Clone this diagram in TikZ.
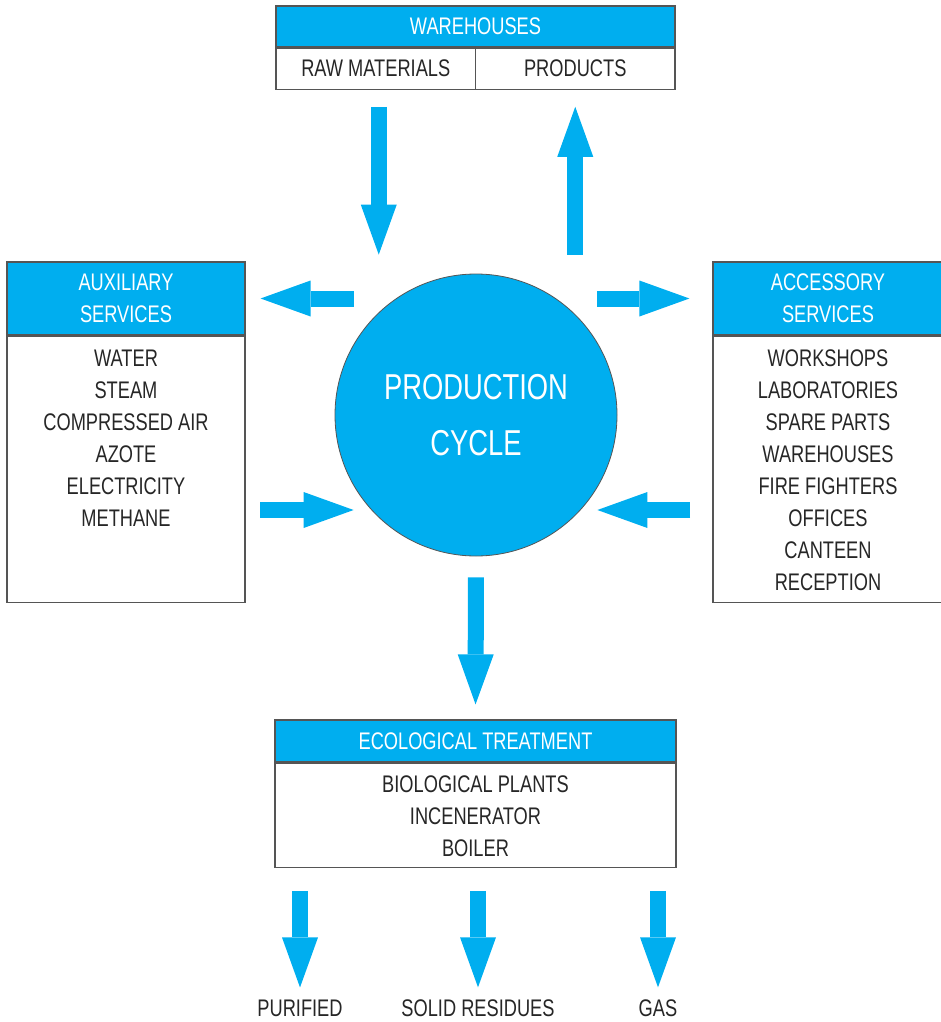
\documentclass[tikz,border=0pt]{standalone}
\usepackage{fontspec}
\setmainfont{Liberation Sans}[FakeStretch=0.76]
\usetikzlibrary{arrows.meta,positioning}
\definecolor{procblue}{HTML}{00AEEF}
\definecolor{boxgray}{HTML}{555555}
\definecolor{inkgray}{HTML}{262626}

\begin{document}
\begin{tikzpicture}[x=1pt, y=-1pt, align=center, inner sep=0pt,
    font=\fontsize{24}{32}\selectfont, text=inkgray,
    head/.style={rectangle, draw=boxgray, line width=1.2pt, fill=procblue, text=white},
    cell/.style={rectangle, draw=boxgray, line width=1.2pt},
    flow/.style={draw=procblue, line width=16pt, -{Triangle[width=36pt, length=50pt, line width=0pt]}}]
    \useasboundingbox (0,0) rectangle (941,1022);

    % warehouses
    \node[head, minimum width=399pt, minimum height=41pt] at (475.5,26.5) (whhead) {WAREHOUSES};
    \node[cell, minimum width=199.5pt, minimum height=41pt, anchor=north west] at (whhead.south west) (raw) {RAW MATERIALS};
    \node[cell, minimum width=199.5pt, minimum height=41pt, anchor=north east] at (whhead.south east) (prod) {PRODUCTS};

    % auxiliary services
    \node[head, minimum width=238pt, minimum height=73pt] at (126,298.5) (auxhead) {AUXILIARY\\SERVICES};
    \node[cell, minimum width=238pt, minimum height=266pt, anchor=north] at (auxhead.south) (auxbox) {};
    \node at (126,438) (auxlist) {WATER\\STEAM\\COMPRESSED AIR\\AZOTE\\ELECTRICITY\\METHANE};

    % accessory services
    \node[head, minimum width=230pt, minimum height=73pt] at (828,298.5) (acchead) {ACCESSORY\\SERVICES};
    \node[cell, minimum width=230pt, minimum height=266pt, anchor=north] at (acchead.south) (accbox) {};
    \node at (828,470) (acclist) {WORKSHOPS\\LABORATORIES\\SPARE PARTS\\WAREHOUSES\\FIRE FIGHTERS\\OFFICES\\CANTEEN\\RECEPTION};

    % ecological treatment
    \node[head, minimum width=401pt, minimum height=42pt] at (475.5,741) (ecohead) {ECOLOGICAL TREATMENT};
    \node[cell, minimum width=401pt, minimum height=104pt, anchor=north] at (ecohead.south) (ecobox) {};
    \node at (475.5,816) (ecolist) {BIOLOGICAL PLANTS\\INCENERATOR\\BOILER};

    % production cycle
    \node[circle, draw=boxgray, line width=0.8pt, fill=procblue, text=white, minimum size=282pt,
        font=\fontsize{36}{56}\selectfont] at (476,415) (cycle) {PRODUCTION\\CYCLE};

    % outputs
    \node at (300,1008) (purified) {PURIFIED};
    \node at (478,1008) (solid) {SOLID RESIDUES};
    \node at (658,1008) (gas) {GAS};

    \coordinate (auxlow) at (245,510);
    \coordinate (acclow) at (713,510);

    % arrows
    \draw[flow, shorten <=17pt, shorten >=19pt] ([xshift=3pt]raw.south) -- ([xshift=3pt]raw.south |- cycle.north);
    \draw[flow, shorten <=19pt, shorten >=17pt] (prod.south |- cycle.north) -- (prod.south);
    \draw[flow, shorten <=-19pt, shorten >=15pt] (cycle.west |- auxhead.east) -- (auxhead.east);
    \draw[flow, shorten <=-20pt, shorten >=23pt] (cycle.east |- acchead.west) -- (acchead.west);
    \draw[flow, shorten <=15pt, shorten >=-19pt] (auxlow) -- (cycle.west |- auxlow);
    \draw[flow, shorten <=23pt, shorten >=-20pt] (acclow) -- (cycle.east |- acclow);
    \draw[flow, shorten <=21pt, shorten >=15pt] (cycle.south) -- (ecohead.north);
    \draw[flow, shorten <=23pt, shorten >=12pt] (purified |- ecobox.south) -- (purified.north);
    \draw[flow, shorten <=23pt, shorten >=12pt] (solid |- ecobox.south) -- (solid.north);
    \draw[flow, shorten <=23pt, shorten >=12pt] (gas |- ecobox.south) -- (gas.north);
\end{tikzpicture}
\end{document}
